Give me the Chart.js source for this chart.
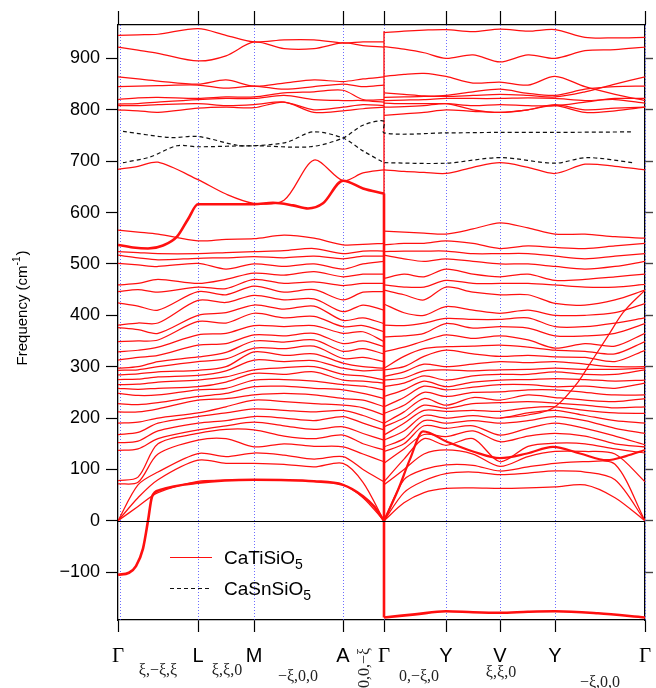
<!DOCTYPE html>
<html>
<head>
<meta charset="utf-8">
<script src="https://cdn.jsdelivr.net/npm/chart.js@4.4.0/dist/chart.umd.min.js"></script>
<style>
  body { margin: 0; background: #fff; overflow: hidden; }
  #wrap { width: 656px; height: 688px; }
  canvas { display: block; }
</style>
</head>
<body>
<div id="wrap"><canvas id="bands" width="656" height="688"></canvas></div>
<script>
// high-symmetry points along the path (Γ-L-M-A-Γ | Γ-Y-V-Y-Γ)
const symX = [0, 80, 136, 225, 266, 328, 382, 437, 527];
const symLabels = ['Γ', 'L', 'M', 'A', 'Γ', 'Y', 'V', 'Y', 'Γ'];
const dirLabels = ['ξ,−ξ,ξ', 'ξ,ξ,0', '−ξ,0,0', '0,0,−ξ', '0,−ξ,0', 'ξ,ξ,0', '−ξ,0,0'];
const yTicks = [-100, 0, 100, 200, 300, 400, 500, 600, 700, 800, 900];

// sample points of the two path segments
const xL = [0, 20, 40, 80, 108, 136, 166, 196, 225, 245, 266];
const xR = [266, 286, 306, 328, 355, 382, 410, 437, 467, 497, 527];

// CaTiSiO5, left segment: lower bands, one column per sample point (cm-1)
const colsL = [
  [0, 0, 0, 72, 78, 137, 152, 168, 190, 212, 228, 248, 258, 265, 275, 284, 293, 297, 313, 329, 349, 376, 381, 424, 446, 459, 501, 517, 524, 566],
  [28, 45, 70, 75, 85, 140, 155, 172, 192, 212, 226, 244, 256, 266, 276, 286, 294, 300, 318, 332, 350, 372, 385, 418, 450, 462, 498, 512, 522, 562],
  [55, 80, 95, 130, 150, 160, 175, 190, 200, 218, 230, 245, 258, 270, 280, 290, 300, 310, 322, 338, 352, 365, 385, 410, 445, 470, 495, 508, 520, 558],
  [77, 118, 131, 157, 170, 177, 190, 203, 210, 235, 242, 255, 261, 274, 283, 293, 310, 319, 342, 362, 388, 400, 429, 446, 455, 462, 501, 511, 520, 545],
  [79, 112, 125, 160, 178, 185, 195, 210, 222, 238, 248, 258, 270, 280, 292, 300, 315, 328, 345, 365, 385, 405, 425, 440, 452, 470, 490, 512, 522, 548],
  [80, 112, 132, 144, 177, 192, 203, 218, 235, 245, 261, 274, 287, 294, 313, 329, 336, 350, 362, 380, 404, 420, 439, 457, 470, 482, 500, 514, 524, 549],
  [79, 110, 128, 150, 165, 185, 200, 215, 232, 248, 262, 275, 285, 298, 310, 322, 335, 348, 360, 378, 395, 412, 430, 445, 462, 478, 495, 512, 526, 556],
  [77, 105, 120, 145, 160, 178, 195, 212, 228, 245, 258, 272, 290, 300, 312, 325, 340, 352, 365, 380, 398, 418, 432, 450, 465, 485, 500, 515, 530, 550],
  [70, 112, 125, 144, 167, 183, 203, 215, 225, 238, 255, 265, 274, 285, 297, 307, 316, 330, 345, 365, 378, 390, 407, 430, 458, 475, 490, 510, 520, 537],
  [45, 75, 100, 130, 150, 170, 190, 205, 220, 235, 248, 262, 272, 282, 292, 300, 318, 335, 350, 368, 380, 395, 420, 445, 462, 480, 500, 515, 525, 538],
  [0, 0, 76, 115, 138, 157, 177, 190, 206, 222, 238, 255, 268, 274, 294, 297, 310, 325, 339, 349, 368, 384, 410, 446, 462, 480, 505, 515, 525, 540]
];
// CaTiSiO5, right segment: lower bands
const colsR = [
  [0, 0, 0, 70, 76, 112, 135, 144, 157, 167, 183, 190, 209, 222, 242, 261, 274, 281, 294, 297, 329, 358, 381, 422, 449, 459, 472, 517, 524, 537],
  [35, 55, 80, 100, 120, 140, 150, 160, 175, 190, 200, 212, 225, 240, 255, 268, 278, 290, 300, 320, 338, 360, 380, 405, 440, 455, 480, 510, 525, 540],
  [55, 78, 100, 130, 160, 168, 185, 195, 205, 215, 225, 238, 250, 262, 272, 282, 292, 305, 320, 335, 350, 365, 385, 400, 430, 455, 475, 505, 525, 540],
  [63, 92, 109, 138, 147, 164, 180, 190, 200, 213, 219, 225, 242, 255, 261, 274, 294, 300, 332, 339, 362, 384, 394, 417, 455, 468, 490, 510, 525, 545],
  [64, 95, 108, 130, 160, 175, 185, 195, 205, 215, 228, 240, 250, 260, 270, 282, 292, 305, 325, 340, 355, 375, 392, 410, 445, 462, 480, 505, 520, 540],
  [63, 90, 97, 106, 115, 154, 167, 190, 200, 213, 230, 235, 251, 265, 274, 285, 294, 310, 320, 342, 360, 378, 392, 404, 440, 462, 475, 500, 520, 530],
  [64, 93, 105, 125, 145, 165, 180, 195, 210, 220, 232, 245, 255, 265, 275, 285, 295, 308, 322, 338, 352, 375, 395, 410, 440, 462, 480, 500, 520, 535],
  [66, 97, 112, 135, 151, 170, 190, 203, 215, 222, 229, 240, 255, 261, 277, 290, 297, 310, 319, 332, 336, 360, 378, 400, 423, 459, 468, 495, 515, 532],
  [70, 95, 115, 135, 150, 165, 180, 195, 205, 215, 225, 235, 250, 262, 275, 285, 295, 305, 318, 330, 345, 360, 378, 400, 420, 455, 470, 490, 510, 530],
  [45, 80, 110, 130, 140, 150, 165, 180, 195, 210, 220, 232, 245, 258, 272, 285, 295, 300, 310, 325, 340, 365, 385, 405, 430, 455, 475, 495, 515, 535],
  [0, 0, 0, 76, 132, 144, 148, 170, 190, 209, 222, 238, 245, 268, 274, 294, 297, 300, 332, 349, 365, 384, 395, 423, 449, 460, 480, 505, 520, 540]
];

// CaTiSiO5 upper bands, on xL / xR
const highL = [
  [945, 946, 947, 958, 945, 932, 936, 936, 930, 932, 932],
  [922, 916, 910, 895, 905, 932, 919, 919, 930, 925, 922],
  [864, 860, 856, 850, 858, 846, 852, 858, 855, 860, 864],
  [845, 846, 847, 848, 842, 846, 840, 845, 850, 845, 848],
  [820, 823, 824, 822, 825, 825, 833, 835, 838, 820, 820],
  [811, 812, 815, 820, 822, 822, 828, 820, 818, 818, 815],
  [808, 808, 810, 812, 808, 810, 815, 800, 805, 810, 808],
  [800, 798, 795, 803, 805, 804, 815, 795, 798, 802, 805],
  [684, 690, 698, 664, 636, 618, 624, 702, 662, 677, 683]
];
const highR = [
  [950, 953, 955, 956, 952, 957, 953, 956, 941, 940, 941],
  [923, 918, 911, 900, 907, 893, 907, 900, 915, 917, 922],
  [865, 869, 871, 865, 852, 854, 848, 865, 845, 830, 818],
  [833, 830, 827, 826, 828, 830, 828, 825, 835, 850, 864],
  [824, 825, 826, 828, 835, 840, 832, 828, 840, 845, 846],
  [818, 819, 820, 822, 822, 822, 823, 822, 818, 820, 813],
  [813, 812, 812, 812, 808, 810, 808, 808, 815, 822, 822],
  [805, 806, 808, 812, 800, 795, 800, 810, 800, 803, 805],
  [789, 792, 795, 800, 797, 795, 800, 808, 795, 798, 805],
  [683, 680, 678, 676, 688, 697, 688, 676, 694, 690, 683],
  [564, 562, 560, 558, 568, 580, 570, 558, 558, 553, 550]
];
// steep branch climbing towards the last Γ
const climbX = [382, 410, 437, 460, 475, 490, 505, 527];
const climbY = [200, 206, 222, 270, 315, 360, 405, 449];

// highlighted (thick) CaTiSiO5 branches
const softX = [0, 11, 18, 25, 30, 34, 42, 80, 136, 196, 225, 245, 256, 266];
const softY = [-105, -101, -88, -54, 0, 47, 60, 74, 80, 77, 70, 48, 28, 0];
const upX = [0, 15, 30, 45, 59, 70, 80, 136, 155, 175, 190, 205, 225, 245, 266];
const upY = [537, 532, 530, 536, 553, 587, 616, 616, 619, 614, 608, 618, 662, 647, 637];
const jumpX = [266, 266, 266];
const jumpY = [953, 637, -188];
const negX = [266, 297, 328, 355, 382, 410, 437, 480, 527];
const negY = [-188, -182, -176, -178, -179, -177, -176, -180, -188];
const acX = [266, 280, 292, 305, 329, 355, 382, 409, 435, 462, 489, 508, 527];
const acY = [0, 60, 120, 174, 154, 135, 122, 131, 144, 131, 118, 126, 138];

// CaSnSiO5 (dashed)
const sn1X = [5, 52, 80, 119, 136, 169, 195, 225, 245, 266, 266, 328, 382, 437, 469, 515];
const sn1Y = [758, 746, 748, 731, 730, 737, 757, 745, 720, 697, 697, 696, 707, 696, 707, 697];
const sn2X = [5, 32, 59, 80, 136, 192, 225, 245, 266, 266, 328, 382, 437, 515];
const sn2Y = [697, 708, 730, 728, 730, 728, 745, 770, 778, 755, 755, 756, 756, 757];

const RED = '#ff1010';
const pts = (xs, ys) => xs.map((x, i) => ({ x: x, y: ys[i] }));
function band(xs, ys, extra) {
  return Object.assign({
    data: pts(xs, ys), borderColor: RED, borderWidth: 1.25,
    pointRadius: 0, fill: false, tension: 0.3
  }, extra || {});
}

const datasets = [];
colsL[0].forEach((_, i) => datasets.push(band(xL, colsL.map(c => c[i]))));
colsR[0].forEach((_, i) => datasets.push(band(xR, colsR.map(c => c[i]))));
highL.forEach(b => datasets.push(band(xL, b)));
highR.forEach(b => datasets.push(band(xR, b)));
datasets.push(band(climbX, climbY, { cubicInterpolationMode: 'monotone' }));
const dashed = { borderColor: '#111', borderWidth: 1.2, borderDash: [4, 3], tension: 0.3 };
datasets.push(band(sn1X, sn1Y, dashed));
datasets.push(band(sn2X, sn2Y, dashed));
const thick = { borderWidth: 2.6, cubicInterpolationMode: 'monotone' };
datasets.push(band(softX, softY, thick));
datasets.push(band(upX, upY, thick));
datasets.push(band(negX, negY, thick));
datasets.push(band(acX, acY, { borderWidth: 2.2, cubicInterpolationMode: 'monotone' }));
datasets.push(band(jumpX.slice(0, 2), jumpY.slice(0, 2), { borderWidth: 1.4, tension: 0 }));
datasets.push(band(jumpX.slice(1), jumpY.slice(1), { borderWidth: 2.6, tension: 0 }));

const symTicks = s => { s.ticks = symX.map(v => ({ value: v })); };
const valTicks = s => { s.ticks = yTicks.map(v => ({ value: v })); };
// fixed box sizes; drop the automatic end-label padding so the plot keeps its width
const fixH = h => s => { s.height = h; s.paddingLeft = 0; s.paddingRight = 0; };
const fixW = w => s => { s.width = w; s.paddingTop = 0; s.paddingBottom = 0; };

const SANS = '"Liberation Sans", Arial, sans-serif';
const annotate = {
  id: 'annotate',
  beforeDatasetsDraw(chart) {
    const { ctx, chartArea: a, scales: { x } } = chart;
    ctx.save();
    ctx.strokeStyle = 'rgba(60,60,255,0.75)';
    ctx.lineWidth = 1;
    ctx.setLineDash([1, 2]);
    symX.forEach(v => {
      const px = Math.round(x.getPixelForValue(v)) + 0.5 + (v === 0 ? 2 : 0);
      ctx.beginPath(); ctx.moveTo(px, a.top); ctx.lineTo(px, a.bottom); ctx.stroke();
    });
    ctx.restore();
  },
  afterDatasetsDraw(chart) {
    const { ctx, chartArea: a, scales: { y } } = chart;
    const py = Math.round(y.getPixelForValue(0)) + 0.5;
    ctx.save();
    ctx.strokeStyle = '#000';
    ctx.lineWidth = 1.2;
    ctx.beginPath(); ctx.moveTo(a.left, py); ctx.lineTo(a.right, py); ctx.stroke();
    ctx.restore();
  },
  afterDraw(chart) {
    const { ctx, scales: { x } } = chart;
    ctx.save();
    ctx.fillStyle = '#222';
    ctx.font = '16px "Liberation Serif", serif';
    ctx.textAlign = 'center';
    ctx.textBaseline = 'middle';
    // direction labels under each segment
    const at = [40, 109, 180, 247, 301, 383, 482];
    const dy = [671, 671, 677, 668, 677, 673, 683];
    dirLabels.forEach((t, i) => {
      const px = x.getPixelForValue(at[i]);
      if (i === 3) {
        ctx.save();
        ctx.translate(px, dy[i]);
        ctx.rotate(-Math.PI / 2);
        ctx.fillText(t, 0, 0);
        ctx.restore();
      } else {
        ctx.fillText(t, px, dy[i]);
      }
    });

    // y axis title with superscript
    ctx.fillStyle = '#000';
    ctx.save();
    ctx.translate(27, 308);
    ctx.rotate(-Math.PI / 2);
    ctx.textAlign = 'left';
    ctx.textBaseline = 'alphabetic';
    const big = '15px ' + SANS, small = '10px ' + SANS;
    const t1 = 'Frequency (cm', t3 = ')';
    ctx.font = small;
    const w2 = ctx.measureText('-1').width;
    ctx.font = big;
    const w1 = ctx.measureText(t1).width, w3 = ctx.measureText(t3).width;
    let cx = -(w1 + w2 + w3 + 1) / 2;
    ctx.fillText(t1, cx, 0); cx += w1;
    ctx.font = small;
    ctx.fillText('-1', cx, -7); cx += w2 + 1;
    ctx.font = big;
    ctx.fillText(t3, cx, 0);
    ctx.restore();

    // legend
    ctx.textAlign = 'left';
    ctx.textBaseline = 'alphabetic';
    const items = [
      { name: 'CaTiSiO', y: 557, color: RED, dash: [] },
      { name: 'CaSnSiO', y: 588, color: '#111', dash: [4, 3] }
    ];
    items.forEach(it => {
      ctx.strokeStyle = it.color;
      ctx.lineWidth = 1.2;
      ctx.setLineDash(it.dash);
      ctx.beginPath(); ctx.moveTo(170, it.y + 0.5); ctx.lineTo(212, it.y + 0.5); ctx.stroke();
      ctx.setLineDash([]);
      ctx.fillStyle = '#000';
      ctx.font = '19px ' + SANS;
      ctx.fillText(it.name, 224, it.y + 7);
      const w = ctx.measureText(it.name).width;
      ctx.font = '14px ' + SANS;
      ctx.fillText('5', 224 + w, it.y + 12);
    });
    ctx.restore();
  }
};

const tickFont = { family: SANS, size: 18 };

new Chart(document.getElementById('bands'), {
  type: 'line',
  data: { datasets: datasets },
  options: {
    responsive: false,
    animation: false,
    events: [],
    layout: { padding: 0 },
    plugins: { legend: { display: false }, tooltip: { enabled: false } },
    scales: {
      x: {
        type: 'linear', position: 'bottom', min: 0, max: 527,
        afterBuildTicks: symTicks,
        afterFit: fixH(68),
        ticks: {
          autoSkip: false, maxRotation: 0, padding: 12, color: '#000',
          callback: (v, i) => symLabels[i],
          font: c => symLabels[c.index] === 'Γ'
            ? { family: '"Liberation Serif", serif', size: 21 }
            : { family: SANS, size: 20 }
        },
        grid: { drawOnChartArea: false, tickLength: 12, tickColor: '#000', tickWidth: 1.2 },
        border: { color: '#000', width: 1.3 }
      },
      x2: {
        type: 'linear', position: 'top', min: 0, max: 527,
        afterBuildTicks: symTicks,
        afterFit: fixH(25),
        ticks: { display: false },
        grid: { drawOnChartArea: false, tickLength: 14, tickColor: '#000', tickWidth: 1.2 },
        border: { color: '#000', width: 1.3 }
      },
      y: {
        type: 'linear', position: 'left', min: -193, max: 965,
        afterBuildTicks: valTicks,
        afterFit: fixW(118),
        ticks: { padding: 6, color: '#000', font: tickFont,
          callback: v => v < 0 ? '\u2212' + (-v) : String(v) },
        grid: { drawOnChartArea: false, tickLength: 12, tickColor: '#000', tickWidth: 1.2 },
        border: { color: '#000', width: 1.3 }
      },
      y2: {
        type: 'linear', position: 'right', min: -193, max: 965,
        afterBuildTicks: valTicks,
        afterFit: fixW(11),
        ticks: { display: false },
        grid: { drawOnChartArea: false, tickLength: 8, tickColor: '#444', tickWidth: 1.4 },
        border: { color: '#000', width: 1.3 }
      }
    }
  },
  plugins: [annotate]
});
</script>
</body>
</html>
